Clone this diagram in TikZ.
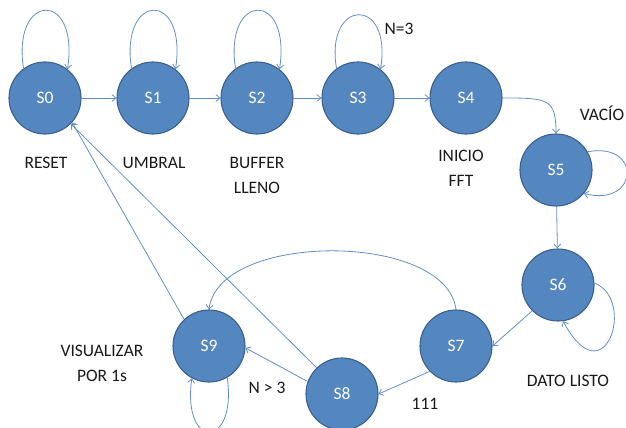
\documentclass[tikz,border=0pt]{standalone}
\usepackage{fontspec}
\setmainfont{Carlito}
\usetikzlibrary{arrows.meta}
\definecolor{statefill}{RGB}{84,134,192}
\definecolor{stateedge}{RGB}{58,96,142}
\definecolor{edgeblue}{RGB}{96,142,204}
\tikzset{
  state/.style={circle, minimum size=72pt, inner sep=0pt, fill=statefill,
    draw=stateedge, line width=1.1pt, text=white,
    font=\fontsize{17.5}{20}\selectfont},
  tag/.style={inner sep=0pt, align=center, anchor=north, text=black!90,
    font=\fontsize{17.5}{25}\selectfont},
  trans/.style={draw=edgeblue, line width=0.8pt,
    -{Straight Barb[length=4pt,width=7pt]}},
}
\begin{document}
\begin{tikzpicture}[x=1pt,y=-1pt]
\useasboundingbox (0,0) rectangle (626,428);
\clip (0,0) rectangle (626,428);

% states
\node[state] (s0) at (45,98) {S0};
\node[state] (s1) at (153,98) {S1};
\node[state] (s2) at (257,98) {S2};
\node[state] (s3) at (358,98) {S3};
\node[state] (s4) at (466,98) {S4};
\node[state] (s5) at (556,170) {S5};
\node[state] (s6) at (558,285) {S6};
\node[state] (s7) at (456,346) {S7};
\node[state] (s8) at (342,394) {S8};
\node[state] (s9) at (209,346) {S9};

% forward chain
\draw[trans] (s0) -- (s1);
\draw[trans] (s1) -- (s2);
\draw[trans] (s2) -- (s3);
\draw[trans] (s3) -- (s4);
\draw[trans] (s4.east) .. controls +(45,0) and +(0,-35) .. (s5.north);
\draw[trans] (s5) -- (s6);
\draw[trans] (s6.-135) -- (s7.0);
\draw[trans] (s7.-136) -- (s8.0);
\draw[trans] (s8.160) -- (s9.-3);
\draw[trans] (s7.north) .. controls +(-10,-78) and +(10,-78) .. (s9.north);
\draw[trans] (s9.133) -- (s0.-42);
\draw[trans] (s8.134) -- (s0.-45);

% self loops
\draw[trans] (s0.126) .. controls +(-12,-76) and +(12,-80) .. (s0.52);
\draw[trans] (s1.126) .. controls +(-12,-76) and +(12,-80) .. (s1.52);
\draw[trans] (s2.126) .. controls +(-12,-76) and +(12,-80) .. (s2.52);
\draw[trans] (s3.126) .. controls +(-12,-70) and +(12,-74) .. (s3.52);
\draw[trans] (s5.30) .. controls +(55,-10) and +(55,14) .. (s5.-40);
\draw[trans] (s6.3) .. controls +(42,16) and +(42,78) .. (s6.-82);
\draw[trans] (s9.-60) .. controls +(10,72) and +(-10,72) .. (s9.-118);

% labels
\node[tag] (lreset) at (46,157) {RESET};
\node[tag] (lumbral) at (154,157) {UMBRAL};
\node[tag] (lbuffer) at (257,157) {BUFFER\\LLENO};
\node[tag] (ln3) at (399,23) {N=3};
\node[tag] (linicio) at (461,150) {INICIO\\FFT};
\node[tag, anchor=base] (lvacio) at (602,120) {VACÍO};
\node[tag] (ldato) at (568,375) {DATO LISTO};
\node[tag] (l111) at (425,398) {111};
\node[tag] (lngt) at (267,382) {N > 3};
\node[tag] (lvis) at (102,345) {VISUALIZAR\\POR 1s};
\end{tikzpicture}
\end{document}
